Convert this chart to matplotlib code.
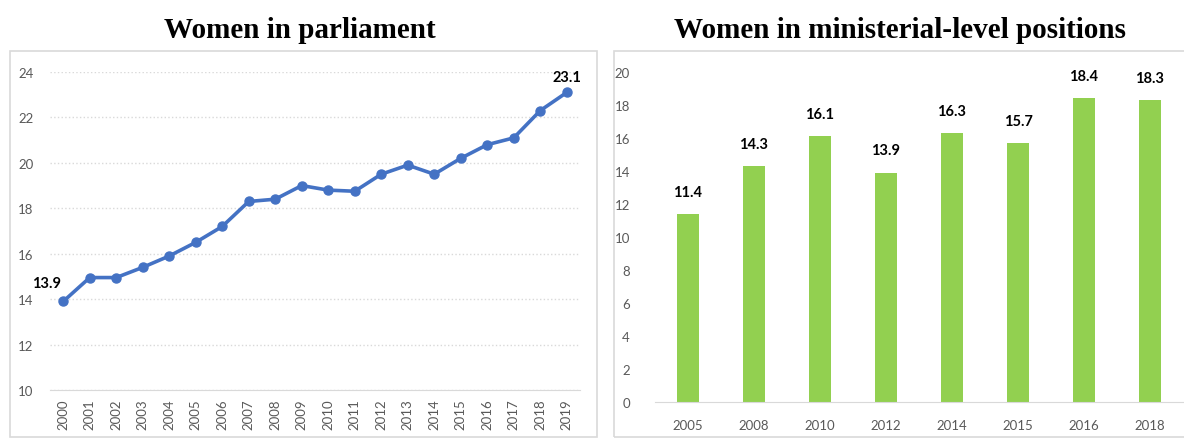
import numpy as np
import matplotlib
matplotlib.use("Agg")
import matplotlib.pyplot as plt
from matplotlib.patches import Rectangle

# ---------------- data ----------------
parl_years = [str(y) for y in range(2000, 2020)]
parl_values = [13.9, 14.95, 14.95, 15.4, 15.9, 16.5, 17.2, 18.3, 18.4, 19.0,
               18.8, 18.75, 19.5, 19.9, 19.5, 20.2, 20.8, 21.1, 22.3, 23.1]
parl_labelled = {0: "13.9", 19: "23.1"}

min_years = ["2005", "2008", "2010", "2012", "2014", "2015", "2016", "2018"]
min_values = [11.4, 14.3, 16.1, 13.9, 16.3, 15.7, 18.4, 18.3]

title_left = "Women in parliament"
title_right = "Women in ministerial-level positions"

# ---------------- style ----------------
blue = "#4472C4"
green = "#92D050"
grid_col = "#D9D9D9"
tick_col = "#595959"
plt.rcParams["font.family"] = ["Lato", "DejaVu Sans"]

W, H = 1184, 439
fig = plt.figure(figsize=(W / 100, H / 100), dpi=100)

def fx(px):
    return px / W

def fy(py):
    return 1 - py / H

# panel borders
for x0, x1 in [(10, 597), (614, 1195)]:
    fig.patches.append(Rectangle((fx(x0), fy(438)), fx(x1 - x0), (438 - 52) / H,
                                 transform=fig.transFigure, fill=False,
                                 edgecolor=grid_col, linewidth=1.2))

# titles
fig.text(fx(300), fy(31), title_left, ha="center", va="center",
         family="Liberation Serif", weight="bold", fontsize=21)
fig.text(fx(900), fy(31), title_right, ha="center", va="center",
         family="Liberation Serif", weight="bold", fontsize=21)

# ---------------- left: line chart ----------------
ax1 = fig.add_axes([fx(50), fy(391), fx(530), (391 - 73) / H])
x = np.arange(len(parl_years))
ax1.plot(x, parl_values, color=blue, linewidth=2.6, marker="o", markersize=6.5)
ax1.set_xlim(-0.5, len(parl_years) - 0.5)
ax1.set_ylim(10, 24)
ax1.set_yticks(np.arange(10, 25, 2))
ax1.set_xticks(x)
ax1.set_xticklabels(parl_years, rotation=90)
ax1.yaxis.grid(True, linestyle=":", color=grid_col, linewidth=1)
ax1.set_axisbelow(True)
for s in ["top", "right", "left"]:
    ax1.spines[s].set_visible(False)
ax1.spines["bottom"].set_color(grid_col)
ax1.tick_params(length=0, labelsize=9.5, labelcolor=tick_col)
ax1.tick_params(axis="y", pad=12)
ax1.tick_params(axis="x", pad=6)
ax1.annotate(parl_labelled[0], (0, parl_values[0]), xytext=(-12, 13),
             textcoords="offset points", ha="center", va="center",
             fontsize=10.5, weight="bold", color="black")
ax1.annotate(parl_labelled[19], (19, parl_values[19]), xytext=(0, 11),
             textcoords="offset points", ha="center", va="center",
             fontsize=10.5, weight="bold", color="black")

# ---------------- right: bar chart ----------------
ax2 = fig.add_axes([fx(655), fy(403), fx(528), (403 - 73) / H])
xb = np.arange(len(min_years))
ax2.bar(xb, min_values, width=0.34, color=green)
ax2.set_xlim(-0.5, len(min_years) - 0.5)
ax2.set_ylim(0, 20)
ax2.set_yticks(np.arange(0, 21, 2))
ax2.set_xticks(xb)
ax2.set_xticklabels(min_years)
for s in ["top", "right", "left"]:
    ax2.spines[s].set_visible(False)
ax2.spines["bottom"].set_color(grid_col)
ax2.tick_params(length=0, labelsize=9.5, labelcolor=tick_col)
ax2.tick_params(axis="y", pad=18)
ax2.tick_params(axis="x", pad=12)
for xi, v in zip(xb, min_values):
    ax2.annotate(f"{v:.1f}", (xi, v), xytext=(0, 16), textcoords="offset points",
                 ha="center", va="center", fontsize=10.5, weight="bold",
                 color="black")

fig.savefig("out.png", dpi=100)
